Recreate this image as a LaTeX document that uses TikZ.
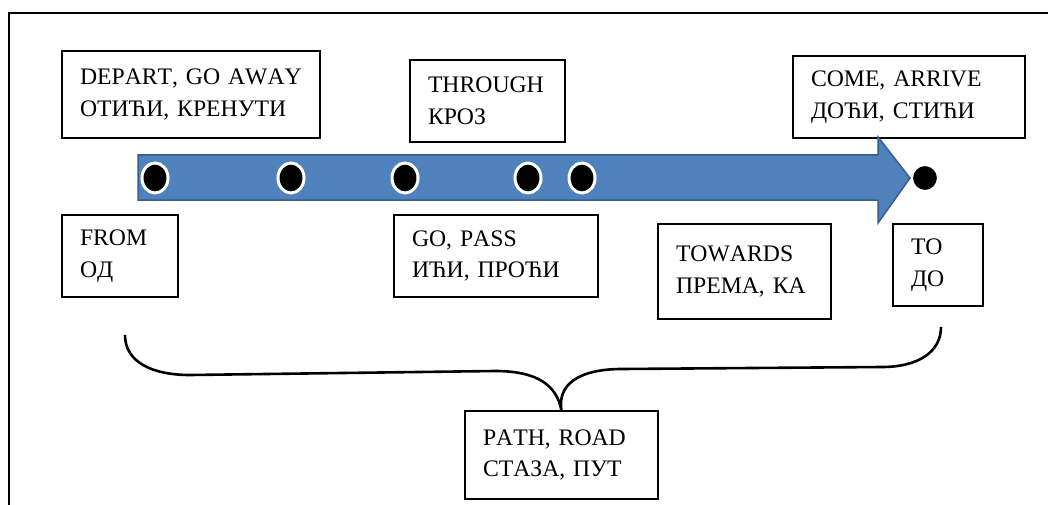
\documentclass[tikz,border=0pt]{standalone}
\usepackage{fontspec}
\setmainfont[Kerning=Off]{Liberation Serif}
\definecolor{arrowfill}{RGB}{79,129,189}
\definecolor{arrowline}{RGB}{56,93,138}
\begin{document}
\begin{tikzpicture}[x=1pt,y=-1pt]
	    \tikzset{wordbox/.style={draw, line width=1.3pt, anchor=north west, align=left, outer sep=0pt, inner xsep=18pt, inner ysep=0pt, font=\fontsize{23.7}{31.5}\selectfont}}
	    \useasboundingbox (0,0) rectangle (1048,505);
	    \draw [line width=1.8pt] (9,520) -- (9,13) -- (1060,13);
	    \node [wordbox, text width=222pt, minimum height=87pt] (depart) at (62,51) {DEPART, GO AWAY\\ОТИЋИ, КРЕНУТИ};
	    \node [wordbox, text width=119pt, minimum height=82pt] (through) at (410,60) {THROUGH\\КРОЗ};
	    \node [wordbox, text width=196pt, minimum height=82pt] (come) at (793,56) {COME, ARRIVE\\ДОЋИ, СТИЋИ};
	    \node [wordbox, text width=80pt, minimum height=82pt] (from) at (62,215) {FROM\\ОД};
	    \node [wordbox, text width=168pt, minimum height=82pt] (gopass) at (394,215) {GO, PASS\\ИЋИ, ПРОЋИ};
	    \node [wordbox, text width=137pt, minimum height=95pt] (towards) at (658,224) {TOWARDS\\ПРЕМА, КА};
	    \node [wordbox, text width=54pt, minimum height=82pt] (to) at (893,224) {TO\\ДО};
	    \node [wordbox, text width=157pt, minimum height=88pt] (path) at (465,411) {PATH, ROAD\\СТАЗА, ПУТ};
	    \filldraw [fill=arrowfill, draw=arrowline, line width=1.5pt] (138,155) -- (878,155) -- (878,137) -- (910,178) -- (878,223) -- (878,200) -- (138,200) -- cycle;
	    \foreach \x in {155,291,405,528,582}
	        \filldraw [fill=black, draw=white, line width=3pt] (\x,178) ellipse [x radius=13pt, y radius=15pt];
	    \coordinate (end) at (925,178);
	    \filldraw [fill=black, draw=white, line width=2pt] (end) circle (13pt);
	    \coordinate (bl) at (125,335);
	    \coordinate (br) at (941,327);
	    \draw [line width=2.6pt] (bl) .. controls (125,362) and (152,375) .. (190,375) -- (495,371) .. controls (537,371) and (557,385) .. (path.north) .. controls (557,385) and (578,369) .. (622,369) -- (882,367) .. controls (918,367) and (941,352) .. (br);
	\end{tikzpicture}
\end{document}
